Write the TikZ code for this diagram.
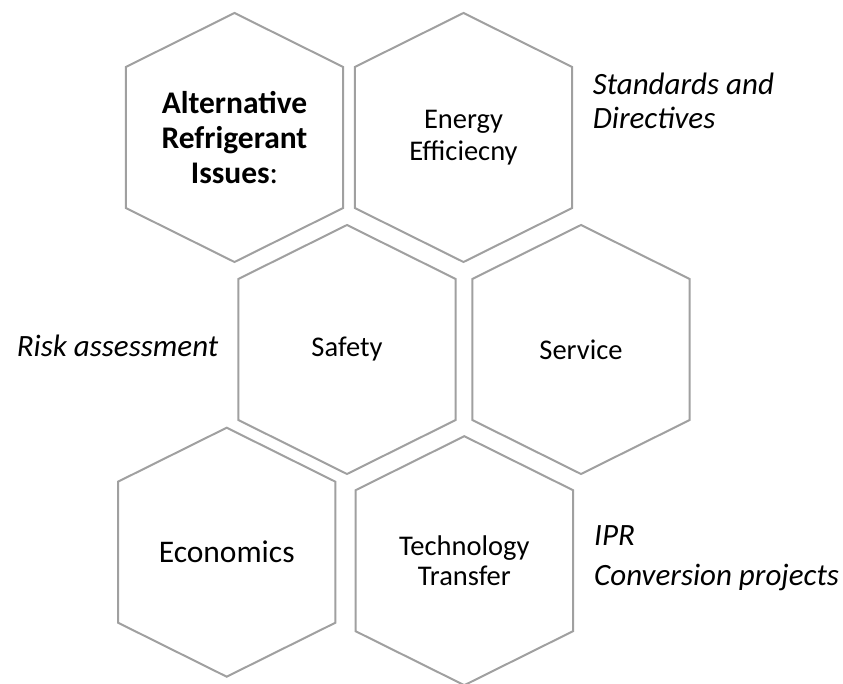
\documentclass[tikz,border=0pt]{standalone}
\usepackage{fontspec}
\setmainfont{Carlito}
\definecolor{hexgray}{HTML}{A0A0A0}
\tikzset{
  hexedge/.style={draw=hexgray,line width=2pt,line join=miter},
  hexlabel/.style={align=center,font=\fontsize{28.5}{31}\selectfont},
  sidenote/.style={anchor=base west,align=left,font=\fontsize{31}{34}\selectfont\itshape},
}
% one hexagon round a named node
\newcommand{\hexround}[1]{%
  \draw[hexedge] (#1.center) ++(0,124.5) -- ++(108.7,-54) -- ++(0,-141)
    -- ++(-108.7,-54) -- ++(-108.7,54) -- ++(0,141) -- cycle;}
\begin{document}
\begin{tikzpicture}[x=1pt,y=1pt]
\useasboundingbox (0,0) rectangle (843,683);
% top row
\node[hexlabel,font=\fontsize{31.5}{35}\selectfont\bfseries] (issues) at (234.5,545.5) {Alternative\\Refrigerant\\Issues\mdseries:};
\hexround{issues}
\node[hexlabel,font=\fontsize{28.5}{31.5}\selectfont] (energy) at (463.5,545.5) {Energy\\Efficiecny};
\hexround{energy}
% middle row
\node[hexlabel] (safety) at (347,333.5) {Safety};
\hexround{safety}
\node[hexlabel] (service) at (581,333.5) {Service};
\hexround{service}
% bottom row
\node[hexlabel,font=\fontsize{31.5}{35}\selectfont] (economics) at (226.7,130.8) {Economics};
\hexround{economics}
\node[hexlabel,font=\fontsize{28.5}{29.5}\selectfont] (transfer) at (464.3,122.3) {Technology\\Transfer};
\hexround{transfer}
% notes beside the cells
\node[sidenote] (standards) at (589.3,554.7) {Standards and\\Directives};
\node[sidenote] (risk) at (13.3,326.3) {Risk assessment};
\node[sidenote] (ipr) at (590.7,138) {IPR};
\node[sidenote] (conversion) at (590.7,98) {Conversion projects};
\end{tikzpicture}
\end{document}
